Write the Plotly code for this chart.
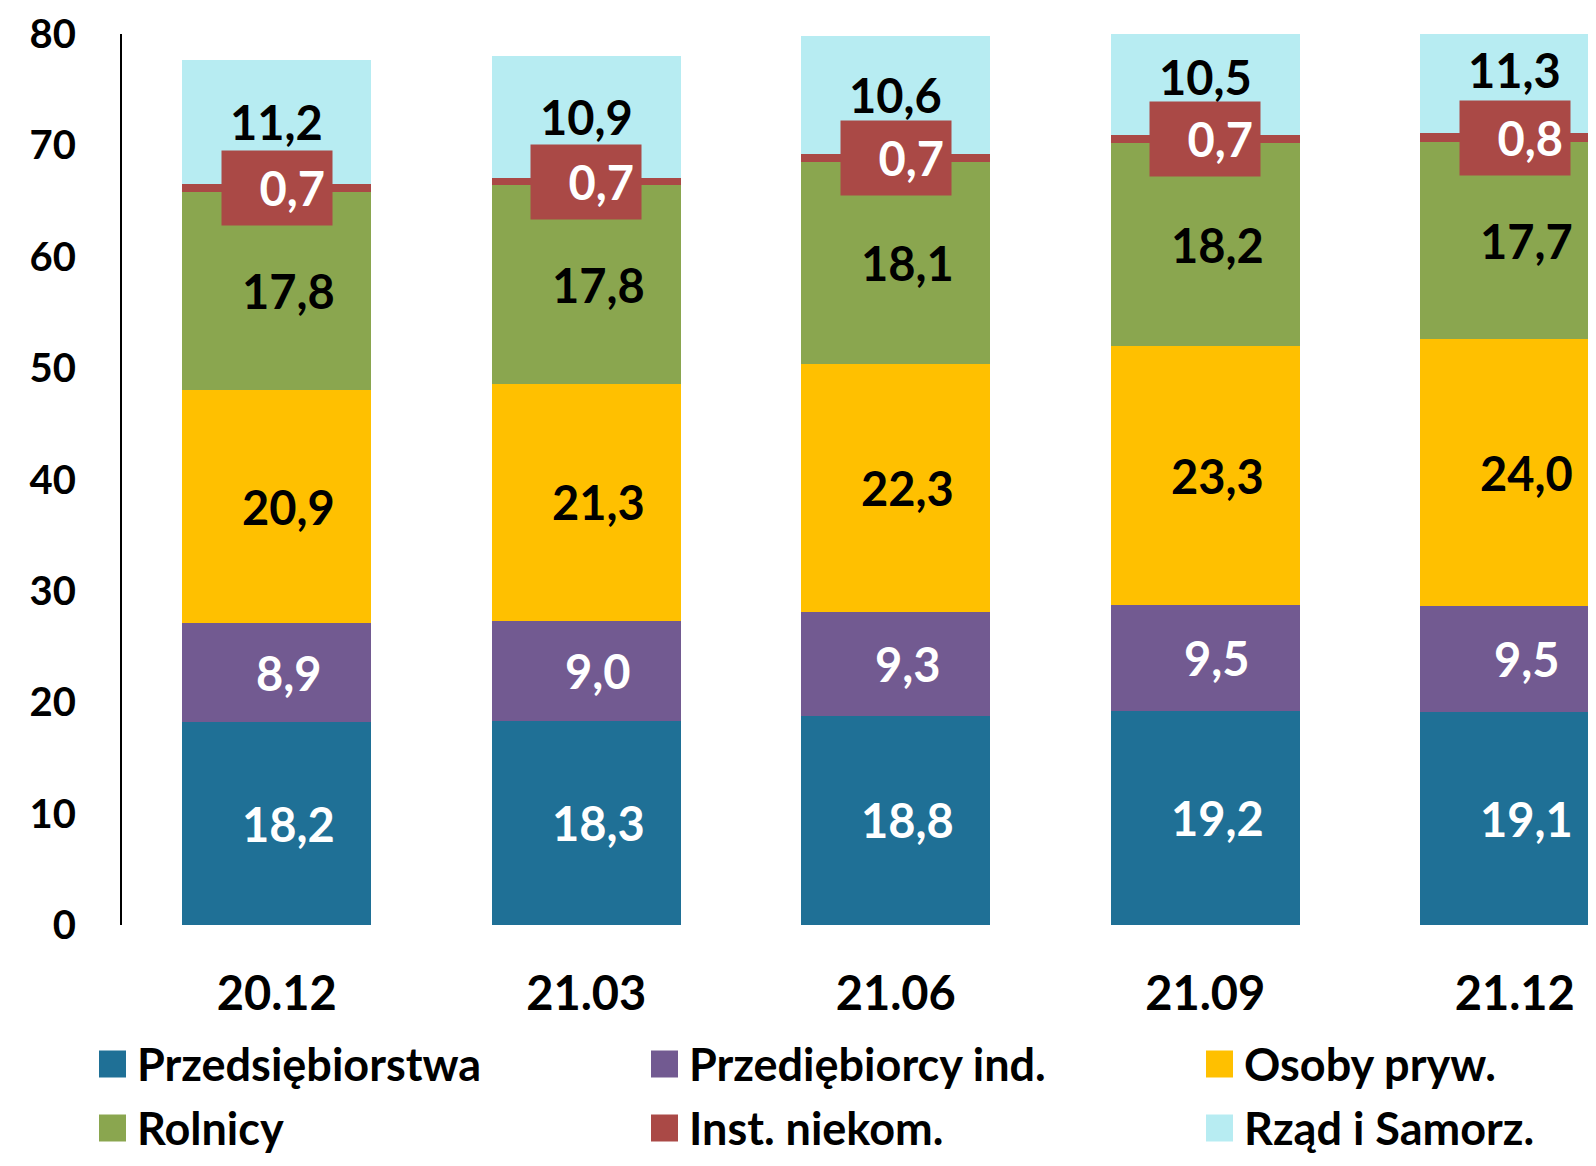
import plotly.graph_objects as go

categories = ["20.12", "21.03", "21.06", "21.09", "21.12"]
series_names = ["Przedsiębiorstwa", "Przediębiorcy ind.", "Osoby pryw.", "Rolnicy", "Inst. niekom.", "Rząd i Samorz."]
przedsiebiorstwa = [18.2, 18.3, 18.8, 19.2, 19.1]
przedsiebiorcy_ind = [8.9, 9.0, 9.3, 9.5, 9.5]
osoby_pryw = [20.9, 21.3, 22.3, 23.3, 24.0]
rolnicy = [17.8, 17.8, 18.1, 18.2, 17.7]
inst_niekom = [0.7, 0.7, 0.7, 0.7, 0.8]
rzad_samorz = [11.2, 10.9, 10.6, 10.5, 11.3]
y_ticks = [0, 10, 20, 30, 40, 50, 60, 70, 80]

values = [przedsiebiorstwa, przedsiebiorcy_ind, osoby_pryw, rolnicy, inst_niekom, rzad_samorz]
colors = ["#1F7096", "#725A91", "#FFC000", "#8AA64F", "#AA4946", "#B7ECF2"]
label_colors = ["white", "white", "black", "black", "white", "black"]
label_shift = [12, 12, 12, 12, 0, 0]

FONT = "Lato"
fig = go.Figure()
for name, vals, col in zip(series_names, values, colors):
    fig.add_trace(go.Bar(x=categories, y=vals, name=name, marker=dict(color=col, line=dict(width=0)),
                         showlegend=False, hoverinfo="skip"))

annotations = []
base = [0.0] * len(categories)
for s, vals in enumerate(values):
    for i, v in enumerate(vals):
        mid = base[i] + v / 2
        txt = f"{v:.1f}".replace(".", ",")
        if s == 4:
            annotations.insert(0, dict(x=i, y=mid, text=txt, showarrow=False,
                                       xanchor="center", yanchor="middle",
                                       font=dict(family=FONT, size=47, color="white", weight="bold"),
                                       bgcolor=colors[4], width=96, height=60, borderpad=7,
                                       align="right", valign="middle"))
        else:
            annotations.append(dict(x=i, y=mid, text=txt, showarrow=False,
                                    xanchor="center", yanchor="middle", xshift=label_shift[s],
                                    font=dict(family=FONT, size=47, color=label_colors[s], weight="bold")))
        base[i] += v

# page body has an 8px margin; figure sized to fit the 1596x1166 window
OFF = 8
W, H = 1588, 1150
ML, MT = 122 - OFF, 34 - OFF
MB = H - (925 - OFF)
pw, ph = W - ML, H - MT - MB

def px2x(px):
    return (px - OFF - ML) / pw

def py2y(py):
    return (925 - py) / ph

col_x = [99, 651, 1206]
row_y = [1064, 1128]
shapes = []
for k, (name, col) in enumerate(zip(series_names, colors)):
    cx = col_x[k % 3]
    cy = row_y[k // 3]
    shapes.append(dict(type="rect", xref="paper", yref="paper",
                       x0=px2x(cx), x1=px2x(cx + 27), y0=py2y(cy + 13.5), y1=py2y(cy - 13.5),
                       fillcolor=col, line=dict(width=0)))
    annotations.append(dict(xref="paper", yref="paper", x=px2x(cx + 36), y=py2y(cy), text=name,
                            showarrow=False, xanchor="left", yanchor="middle",
                            font=dict(family=FONT, size=45, color="black", weight="bold")))

fig.update_layout(
    barmode="stack",
    bargap=0.389,
    width=W, height=H,
    margin=dict(l=ML, r=0, t=MT, b=MB, pad=0),
    paper_bgcolor="white", plot_bgcolor="white",
    separators=", ",
    annotations=annotations,
    shapes=shapes,
    showlegend=False,
    xaxis=dict(type="category", range=[-0.5, -0.5 + pw / 309.5], showgrid=False, zeroline=False,
               showline=False, ticks="", ticklabelstandoff=37,
               tickfont=dict(family=FONT, size=47, color="black", weight="bold")),
    yaxis=dict(range=[0, 80], tickvals=y_ticks, showgrid=False, zeroline=False,
               showline=True, linecolor="black", linewidth=2, ticks="", ticklabelstandoff=36,
               tickfont=dict(family=FONT, size=40, color="black", weight="bold")),
)

fig.write_html("out.html")
